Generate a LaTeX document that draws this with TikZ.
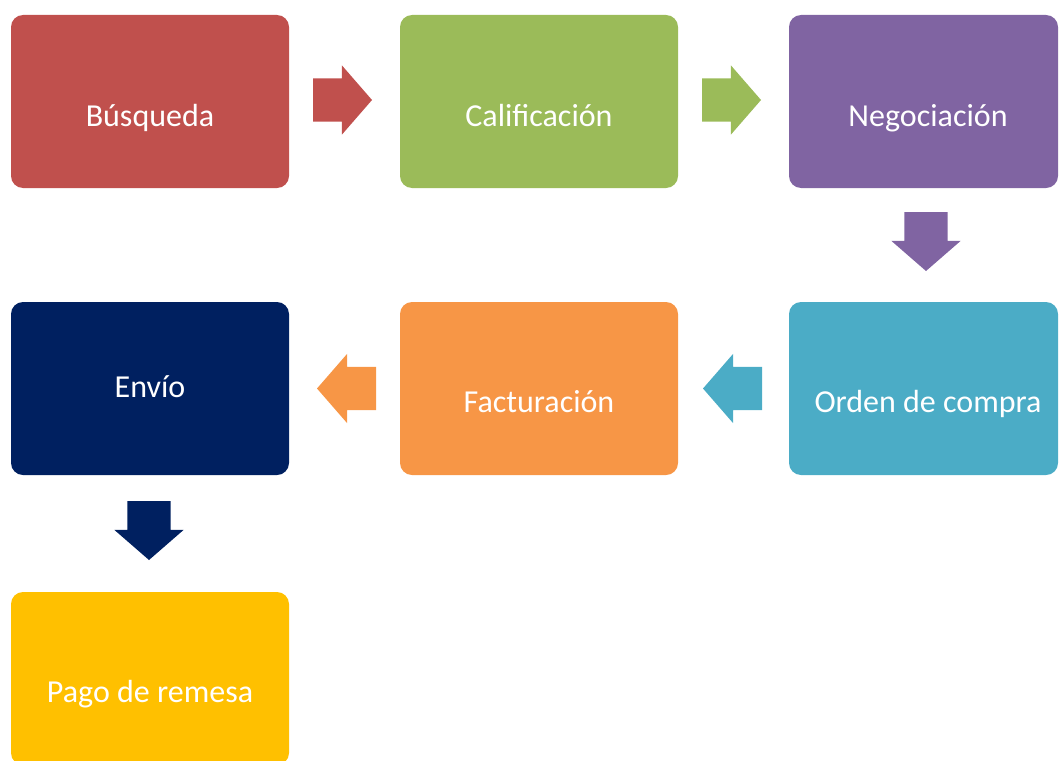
\documentclass[tikz,border=0pt]{standalone}
\usepackage{fontspec}
\setmainfont{Carlito}
\usetikzlibrary{positioning,shapes.arrows}

\definecolor{busqRed}{HTML}{C0504D}
\definecolor{califGreen}{HTML}{9BBB59}
\definecolor{negoPurple}{HTML}{8064A2}
\definecolor{ordenBlue}{HTML}{4BACC6}
\definecolor{factOrange}{HTML}{F79646}
\definecolor{envioNavy}{HTML}{002060}
\definecolor{pagoGold}{HTML}{FFC000}

\tikzset{
    etapa/.style={rectangle, rounded corners=12pt, minimum width=278pt,
        minimum height=173pt, inner sep=0pt, outer sep=0pt},
    rotulo/.style={text=white, anchor=base, inner sep=0pt,
        font=\fontsize{32}{38}\selectfont},
    flecha/.style={single arrow, anchor=tail, minimum height=59pt,
        single arrow head extend=13pt, single arrow tip angle=98,
        outer sep=0pt},
    flechaH/.style={flecha, inner xsep=0pt, inner ysep=21.5pt},
    flechaV/.style={flecha, inner xsep=21.5pt, inner ysep=0pt,
        shape border rotate=270},
}

\begin{document}
\begin{tikzpicture}[x=1pt,y=-1pt]
    \useasboundingbox (0,0) rectangle (1059,760);
    \clip (0,0) rectangle (1059,760);

    % first row
    \node[etapa, fill=busqRed, anchor=north west] (busq) at (11,15) {};
    \node[etapa, fill=califGreen, right=111pt of busq] (calif) {};
    \node[etapa, fill=negoPurple, minimum width=269pt,
        right=111pt of calif] (nego) {};

    % second row
    \node[etapa, fill=ordenBlue, minimum width=269pt,
        below=114pt of nego] (orden) {};
    \node[etapa, fill=factOrange, below=114pt of calif] (fact) {};
    \node[etapa, fill=envioNavy, below=114pt of busq] (envio) {};

    % third row
    \node[etapa, fill=pagoGold, below=117pt of envio] (pago) {};

    % labels
    \node[rotulo] (busqT) at ([yshift=-24.5pt]busq.center) {Búsqueda};
    \node[rotulo] (califT) at ([yshift=-24.5pt]calif.center) {Calificación};
    \node[rotulo] (negoT) at ([xshift=4.5pt, yshift=-24.5pt]nego.center) {Negociación};
    \node[rotulo] (ordenT) at ([xshift=4.5pt, yshift=-23.5pt]orden.center) {Orden de compra};
    \node[rotulo] (factT) at ([yshift=-23.5pt]fact.center) {Facturación};
    \node[rotulo] (envioT) at ([yshift=-8.5pt]envio.center) {Envío};
    \node[rotulo] (pagoT) at ([yshift=-23.5pt]pago.center) {Pago de remesa};

    % block arrows
    \node[flechaH, fill=busqRed] (f1) at ([xshift=24pt, yshift=1.5pt]busq.east) {};
    \node[flechaH, fill=califGreen] (f2) at ([xshift=24pt, yshift=1.5pt]calif.east) {};
    \node[flechaV, fill=negoPurple] (f3) at ([xshift=2.5pt, yshift=-24pt]nego.south) {};
    \node[flechaH, fill=ordenBlue, shape border rotate=180] (f4)
        at ([xshift=-27pt]orden.west) {};
    \node[flechaH, fill=factOrange, shape border rotate=180] (f5)
        at ([xshift=-24pt]fact.west) {};
    \node[flechaV, fill=envioNavy] (f6) at ([xshift=-1pt, yshift=-26pt]envio.south) {};
\end{tikzpicture}
\end{document}
